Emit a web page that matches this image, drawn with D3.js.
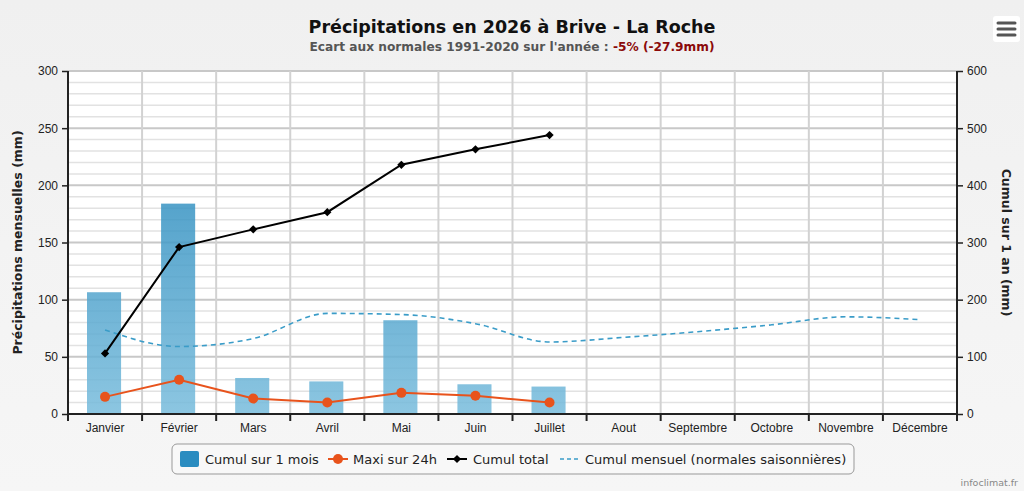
<!DOCTYPE html>
<html>
<head>
<meta charset="utf-8">
<script src="https://cdn.jsdelivr.net/npm/d3@7"></script>
<style>
  body { margin: 0; background: #f4f4f4; }
  svg { display: block; font-family: "DejaVu Sans", Verdana, sans-serif; }
</style>
</head>
<body>
<svg id="chart" width="1024" height="491"></svg>
<script>
// donnees
var months = ["Janvier", "Février", "Mars", "Avril", "Mai", "Juin", "Juillet", "Aout", "Septembre", "Octobre", "Novembre", "Décembre"];
var cumulMois = [106.5, 184, 31.5, 28.5, 82, 26, 24];
var maxi24h = [15, 30, 13.5, 10, 18.5, 16, 10];
var cumulTotal = [106, 292, 323, 353, 436, 463, 488];
var normales = [73.5, 59, 66, 88, 87, 79, 63, 67, 72, 78, 85, 82.5];
var leftTicks = [0, 50, 100, 150, 200, 250, 300];
var rightTicks = [0, 100, 200, 300, 400, 500, 600];

var W = 1024, H = 491;
var m = {left: 68, right: 67, top: 71, bottom: 77};

var svg = d3.select("#chart");

// fond
var bg = svg.append("defs");
var g1 = bg.append("linearGradient").attr("id", "bgGrad").attr("x1", 0).attr("y1", 0).attr("x2", 0).attr("y2", 1);
g1.append("stop").attr("offset", "0%").attr("stop-color", "#f0f0f0");
g1.append("stop").attr("offset", "100%").attr("stop-color", "#f6f6f6");
var g2 = bg.append("linearGradient").attr("id", "barGrad")
    .attr("gradientUnits", "userSpaceOnUse")
    .attr("x1", 0).attr("y1", m.top).attr("x2", 0).attr("y2", H - m.bottom);
g2.append("stop").attr("offset", "0%").attr("stop-color", "#0f7ab3");
g2.append("stop").attr("offset", "100%").attr("stop-color", "#78bcdc");

svg.append("rect").attr("width", W).attr("height", H).attr("fill", "url(#bgGrad)");

var x = d3.scaleBand().domain(months).range([m.left, W - m.right]).paddingInner(0).paddingOuter(0);
var y = d3.scaleLinear().domain([0, 300]).range([H - m.bottom, m.top]);
var y2 = d3.scaleLinear().domain([0, 600]).range([H - m.bottom, m.top]);

// zone de trace
svg.append("rect")
    .attr("x", m.left).attr("y", m.top)
    .attr("width", W - m.left - m.right).attr("height", H - m.top - m.bottom)
    .attr("fill", "#fff");

// grille mineure
svg.append("g").selectAll("line")
    .data(d3.range(10, 300, 10).filter(v => v % 50 != 0))
    .join("line")
    .attr("x1", m.left).attr("x2", W - m.right)
    .attr("y1", d => y(d)).attr("y2", d => y(d))
    .attr("stroke", "#e2e2e2").attr("stroke-width", 1.5);

// grille majeure
svg.append("g").selectAll("line")
    .data(leftTicks.slice(1))
    .join("line")
    .attr("x1", m.left).attr("x2", W - m.right)
    .attr("y1", d => y(d)).attr("y2", d => y(d))
    .attr("stroke", "#c8c8c8").attr("stroke-width", 2);

// grille verticale
svg.append("g").selectAll("line")
    .data(months.slice(1))
    .join("line")
    .attr("x1", d => x(d)).attr("x2", d => x(d))
    .attr("y1", m.top).attr("y2", H - m.bottom)
    .attr("stroke", "#d2d2d2").attr("stroke-width", 2);

// barres
var bw = x.bandwidth() * 0.46;
svg.append("g").selectAll("rect")
    .data(cumulMois)
    .join("rect")
    .attr("x", (d, i) => x(months[i]) + x.bandwidth() / 2 - bw / 2 - 1)
    .attr("y", d => y(d))
    .attr("width", bw)
    .attr("height", d => y(0) - y(d))
    .attr("fill", "url(#barGrad)")
    .attr("fill-opacity", 0.85);

var cx = (d, i) => x(months[i]) + x.bandwidth() / 2;

// normales
svg.append("path")
    .datum(normales)
    .attr("d", d3.line().x(cx).y(d => y(d)).curve(d3.curveMonotoneX))
    .attr("fill", "none")
    .attr("stroke", "#3a9cc8")
    .attr("stroke-width", 1.6)
    .attr("stroke-dasharray", "5,4");

// maxi 24h
svg.append("path")
    .datum(maxi24h)
    .attr("d", d3.line().x(cx).y(d => y(d)))
    .attr("fill", "none").attr("stroke", "#e8531c").attr("stroke-width", 2);
svg.append("g").selectAll("circle")
    .data(maxi24h)
    .join("circle")
    .attr("cx", cx).attr("cy", d => y(d)).attr("r", 5)
    .attr("fill", "#e8531c");

// cumul total
svg.append("path")
    .datum(cumulTotal)
    .attr("d", d3.line().x(cx).y(d => y2(d)))
    .attr("fill", "none").attr("stroke", "#000").attr("stroke-width", 2);
var diamond = d3.symbol().type(d3.symbolSquare).size(34);
svg.append("g").selectAll("path")
    .data(cumulTotal)
    .join("path")
    .attr("d", diamond)
    .attr("transform", (d, i) => `translate(${cx(d, i)},${y2(d)}) rotate(45)`)
    .attr("fill", "#000");

// axes
var axL = svg.append("g").attr("transform", `translate(${m.left},0)`)
    .call(d3.axisLeft(y).tickValues(leftTicks).tickSize(6).tickPadding(4));
var axR = svg.append("g").attr("transform", `translate(${W - m.right},0)`)
    .call(d3.axisRight(y2).tickValues(rightTicks).tickSize(6).tickPadding(4));
var axB = svg.append("g").attr("transform", `translate(0,${H - m.bottom})`)
    .call(d3.axisBottom(x).tickSize(0).tickPadding(9));
svg.append("g").selectAll("line")
    .data(months.map(d => x(d)).concat([W - m.right]))
    .join("line")
    .attr("x1", d => d).attr("x2", d => d)
    .attr("y1", H - m.bottom).attr("y2", H - m.bottom + 7)
    .attr("stroke", "#222").attr("stroke-width", 2);

[axL, axR, axB].forEach(a => {
    a.select(".domain").attr("stroke", "#222").attr("stroke-width", 2);
    a.selectAll(".tick line").attr("stroke", "#222").attr("stroke-width", 1.5);
    a.selectAll("text").attr("fill", "#222").attr("font-size", 12);
});
axL.select(".domain").attr("d", `M0,${m.top}V${H - m.bottom}`);
axR.select(".domain").attr("d", `M0,${m.top}V${H - m.bottom}`);
axB.select(".domain").attr("d", `M${m.left},0H${W - m.right}`);

// titres d'axes
svg.append("text")
    .attr("transform", `translate(22,${(m.top + H - m.bottom) / 2}) rotate(-90)`)
    .attr("text-anchor", "middle")
    .attr("font-size", 12.5).attr("font-weight", "bold").attr("fill", "#222")
    .text("Précipitations mensuelles (mm)");
svg.append("text")
    .attr("transform", `translate(1002,${(m.top + H - m.bottom) / 2}) rotate(90)`)
    .attr("text-anchor", "middle")
    .attr("font-size", 12.5).attr("font-weight", "bold").attr("fill", "#222")
    .text("Cumul sur 1 an (mm)");

// titre
svg.append("text")
    .attr("x", 512).attr("y", 33)
    .attr("text-anchor", "middle")
    .attr("font-size", 17.5).attr("font-weight", "bold").attr("fill", "#111")
    .text("Précipitations en 2026 à Brive - La Roche");
var sub = svg.append("text")
    .attr("x", 512).attr("y", 51)
    .attr("text-anchor", "middle")
    .attr("font-size", 12.2).attr("font-weight", "bold").attr("fill", "#555");
sub.append("tspan").text("Ecart aux normales 1991-2020 sur l'année : ");
sub.append("tspan").attr("fill", "#8b0a0a").text("-5% (-27.9mm)");

// legende
var leg = svg.append("g");
leg.append("rect")
    .attr("x", 172).attr("y", 444).attr("width", 682).attr("height", 30)
    .attr("rx", 5).attr("fill", "#f8f8f8").attr("stroke", "#999").attr("stroke-width", 1);
var ly = 459;
leg.append("rect").attr("x", 180).attr("y", ly - 8).attr("width", 19).attr("height", 16)
    .attr("rx", 2).attr("fill", "#2a8cc0");
leg.append("text").attr("x", 205).attr("y", ly + 4.5).attr("font-size", 13).attr("fill", "#222").text("Cumul sur 1 mois");
leg.append("line").attr("x1", 328).attr("x2", 348).attr("y1", ly).attr("y2", ly).attr("stroke", "#e8531c").attr("stroke-width", 2);
leg.append("circle").attr("cx", 338).attr("cy", ly).attr("r", 5).attr("fill", "#e8531c");
leg.append("text").attr("x", 353).attr("y", ly + 4.5).attr("font-size", 13).attr("fill", "#222").text("Maxi sur 24h");
leg.append("line").attr("x1", 447).attr("x2", 467).attr("y1", ly).attr("y2", ly).attr("stroke", "#000").attr("stroke-width", 2);
leg.append("path").attr("d", diamond).attr("transform", `translate(457,${ly}) rotate(45)`).attr("fill", "#000");
leg.append("text").attr("x", 473).attr("y", ly + 4.5).attr("font-size", 13).attr("fill", "#222").text("Cumul total");
leg.append("line").attr("x1", 560).attr("x2", 580).attr("y1", ly).attr("y2", ly).attr("stroke", "#3a9cc8").attr("stroke-width", 1.6).attr("stroke-dasharray", "4,3");
leg.append("text").attr("x", 585).attr("y", ly + 4.5).attr("font-size", 13).attr("fill", "#222").text("Cumul mensuel (normales saisonnières)");

// credit
svg.append("text").attr("x", 1018).attr("y", 486).attr("text-anchor", "end")
    .attr("font-size", 9.5).attr("fill", "#888").text("infoclimat.fr");

// bouton menu
svg.append("rect").attr("x", 993).attr("y", 16).attr("width", 27).attr("height", 26).attr("rx", 3).attr("fill", "#fff");
[23, 29, 35].forEach(v => {
    svg.append("line").attr("x1", 998).attr("x2", 1015).attr("y1", v).attr("y2", v)
        .attr("stroke", "#555").attr("stroke-width", 3).attr("stroke-linecap", "round");
});
</script>
</body>
</html>
